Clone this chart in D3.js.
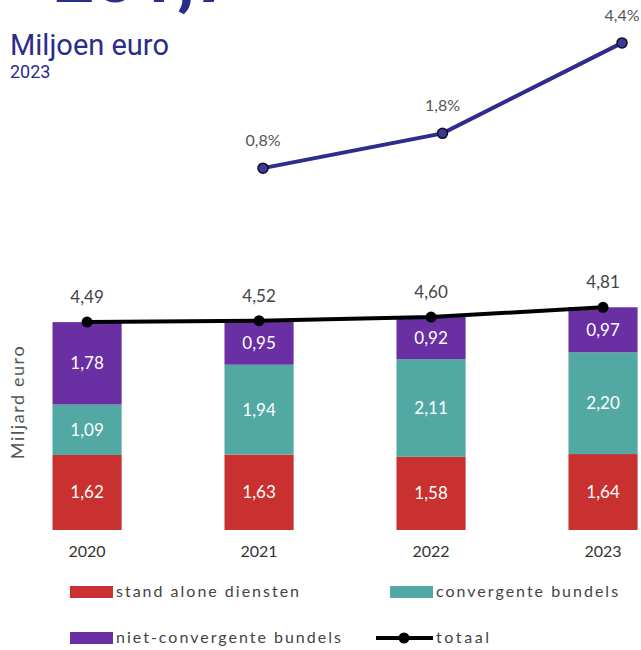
<!DOCTYPE html>
<html>
<head>
<meta charset="utf-8">
<script src="https://cdn.jsdelivr.net/npm/d3@7"></script>
<style>
  body { margin: 0; background: #fff; }
  text { font-family: Lato, "Open Sans", sans-serif; }
</style>
</head>
<body>
<script>
// data
var years = ["2020", "2021", "2022", "2023"];
var standAlone = [1.62, 1.63, 1.58, 1.64];
var convergent = [1.09, 1.94, 2.11, 2.20];
var nietConvergent = [1.78, 0.95, 0.92, 0.97];
var totals = [4.49, 4.52, 4.60, 4.81];

var growthYears = ["2021", "2022", "2023"];
var growth = [0.8, 1.8, 4.4];

var seriesKeys = ["standAlone", "convergent", "nietConvergent"];
var seriesLabels = ["stand alone diensten", "convergente bundels", "niet-convergente bundels"];
var colors = {standAlone: "#c8312f", convergent: "#52a9a3", nietConvergent: "#6a2fa2"};

var fmt = function(v, n) { return d3.format("." + n + "f")(v).replace(".", ","); };

var width = 641, height = 650;

var svg = d3.select("body").append("svg")
    .attr("width", width)
    .attr("height", height);

// header (cut off at top, as in the source)
svg.append("text")
    .attr("x", 14).attr("y", 2)
    .style("font-family", "Roboto, sans-serif")
    .style("font-weight", "bold")
    .style("font-size", "72px")
    .attr("fill", "#2b2d8c")
    .text("+201,7");

svg.append("text")
    .attr("x", 10).attr("y", 55)
    .style("font-family", "Roboto, sans-serif")
    .style("font-size", "29px")
    .attr("fill", "#2b2d8c")
    .text("Miljoen euro");

svg.append("text")
    .attr("x", 10).attr("y", 78)
    .style("font-family", "Roboto, sans-serif")
    .style("font-size", "18px")
    .attr("fill", "#2b2d8c")
    .text("2023");

// growth line
var xTop = d3.scalePoint().domain(growthYears).range([263, 622]);
var yTop = d3.scaleLinear().domain([0, 5]).range([196, 22]);

var growthData = growthYears.map((y, i) => ({year: y, v: growth[i]}));

svg.append("path")
    .datum(growthData)
    .attr("fill", "none")
    .attr("stroke", "#2e2c8c")
    .attr("stroke-width", 4)
    .attr("d", d3.line().x(d => xTop(d.year)).y(d => yTop(d.v)));

svg.selectAll(".gdot")
    .data(growthData)
  .enter().append("circle")
    .attr("cx", d => xTop(d.year))
    .attr("cy", d => yTop(d.v))
    .attr("r", 5)
    .attr("fill", "#3a3a9c")
    .attr("stroke", "#111")
    .attr("stroke-width", 1.5);

svg.selectAll(".glab")
    .data(growthData)
  .enter().append("text")
    .attr("x", d => xTop(d.year))
    .attr("y", d => yTop(d.v) - 22)
    .attr("text-anchor", "middle")
    .style("font-size", "16px")
    .attr("fill", "#555")
    .text(d => fmt(d.v, 1) + "%");

// stacked bars
var x = d3.scaleBand()
    .domain(years)
    .range([52.5, 637.6])
    .paddingInner(0.598)
    .paddingOuter(0);

var y = d3.scaleLinear().domain([0, 5]).range([530, 298.5]);

var rows = years.map((yr, i) => ({
  year: yr,
  standAlone: standAlone[i],
  convergent: convergent[i],
  nietConvergent: nietConvergent[i]
}));

var stack = d3.stack().keys(seriesKeys);
var layers = stack(rows);

var layer = svg.selectAll(".layer")
    .data(layers)
  .enter().append("g")
    .attr("fill", d => colors[d.key]);

layer.selectAll("rect")
    .data(d => d)
  .enter().append("rect")
    .attr("x", d => x(d.data.year))
    .attr("width", x.bandwidth())
    .attr("y", d => y(d[1]))
    .attr("height", d => y(d[0]) - y(d[1]));

layer.selectAll("text")
    .data(d => d)
  .enter().append("text")
    .attr("x", d => x(d.data.year) + x.bandwidth() / 2)
    .attr("y", d => (y(d[0]) + y(d[1])) / 2 + 6)
    .attr("text-anchor", "middle")
    .attr("fill", "#fff")
    .style("font-size", "17px")
    .text(d => fmt(d[1] - d[0], 2));

// totals line
var totalData = years.map((yr, i) => ({year: yr, v: totals[i]}));
var cx = d => x(d.year) + x.bandwidth() / 2;

svg.append("path")
    .datum(totalData)
    .attr("fill", "none")
    .attr("stroke", "#000")
    .attr("stroke-width", 4)
    .attr("d", d3.line().x(cx).y(d => y(d.v)));

svg.selectAll(".tdot")
    .data(totalData)
  .enter().append("circle")
    .attr("cx", cx)
    .attr("cy", d => y(d.v))
    .attr("r", 5.5)
    .attr("fill", "#000");

svg.selectAll(".tlab")
    .data(totalData)
  .enter().append("text")
    .attr("x", cx)
    .attr("y", d => y(d.v) - 19)
    .attr("text-anchor", "middle")
    .style("font-size", "17px")
    .attr("fill", "#444")
    .text(d => fmt(d.v, 2));

// x axis labels
var xAxis = svg.append("g")
    .attr("transform", "translate(0,546)")
    .call(d3.axisBottom(x).tickSize(0).tickPadding(0));
xAxis.select(".domain").remove();
xAxis.selectAll("text")
    .style("font-family", "Lato, sans-serif")
    .style("font-size", "16px")
    .attr("fill", "#333");

// y title
svg.append("text")
    .attr("transform", "translate(24,402) rotate(-90)")
    .attr("text-anchor", "middle")
    .style("font-size", "18px")
    .style("letter-spacing", "1.6px")
    .attr("fill", "#555")
    .text("Miljard euro");

// legend
var legendItems = [
  {key: "standAlone", label: seriesLabels[0], x: 70, y: 592},
  {key: "convergent", label: seriesLabels[1], x: 390, y: 592},
  {key: "nietConvergent", label: seriesLabels[2], x: 70, y: 638}
];

var leg = svg.selectAll(".leg")
    .data(legendItems)
  .enter().append("g")
    .attr("transform", d => "translate(" + d.x + "," + d.y + ")");

leg.append("rect")
    .attr("x", 0).attr("y", -6)
    .attr("width", 43).attr("height", 12)
    .attr("fill", d => colors[d.key]);

leg.append("text")
    .attr("x", 46).attr("y", 5)
    .style("font-size", "16px")
    .style("letter-spacing", "2px")
    .attr("fill", "#444")
    .text(d => d.label);

var legT = svg.append("g").attr("transform", "translate(376,638)");
legT.append("line")
    .attr("x1", 0).attr("x2", 57)
    .attr("stroke", "#000").attr("stroke-width", 4);
legT.append("circle")
    .attr("cx", 28).attr("r", 5.5).attr("fill", "#000");
legT.append("text")
    .attr("x", 60).attr("y", 5)
    .style("font-size", "16px")
    .style("letter-spacing", "2.6px")
    .attr("fill", "#444")
    .text("totaal");
</script>
</body>
</html>
